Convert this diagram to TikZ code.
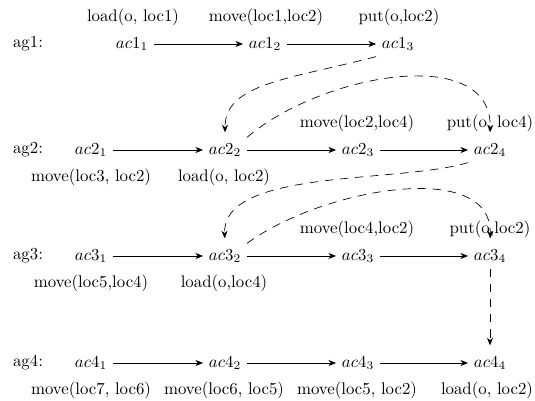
\documentclass[tikz,border=0pt]{standalone}
\usetikzlibrary{arrows.meta}
\begin{document}
\begin{tikzpicture}[x=0.595pt,y=-0.595pt,
  act/.style={inner sep=3.33pt},
  lbl/.style={inner sep=1pt},
  aglbl/.style={inner sep=1pt},
  flow/.style={-{Stealth[length=4.5pt,width=3.6pt,inset=1.4pt]}},
  dep/.style={-{Stealth[length=4.5pt,width=3.6pt,inset=1.4pt]},dash pattern=on 5pt off 4pt,shorten >=3pt}]
\useasboundingbox (0,0) rectangle (535,401);
% agents
\node[aglbl] (ag1) at (28,44) {ag1:};
\node[aglbl] (ag2) at (28,150) {ag2:};
\node[aglbl] (ag3) at (28,256) {ag3:};
\node[aglbl] (ag4) at (28,363) {ag4:};
% actions
\node[act] (a11) at (132,44) {$ac1_1$};
\node[act] (a12) at (265,44) {$ac1_2$};
\node[act] (a13) at (398,44) {$ac1_3$};
\node[act] (a21) at (91,150) {$ac2_1$};
\node[act] (a22) at (225,150) {$ac2_2$};
\node[act] (a23) at (358,150) {$ac2_3$};
\node[act] (a24) at (490,150) {$ac2_4$};
\node[act] (a31) at (91,256) {$ac3_1$};
\node[act] (a32) at (225,256) {$ac3_2$};
\node[act] (a33) at (358,256) {$ac3_3$};
\node[act] (a34) at (490,256) {$ac3_4$};
\node[act] (a41) at (91,363) {$ac4_1$};
\node[act] (a42) at (225,363) {$ac4_2$};
\node[act] (a43) at (358,363) {$ac4_3$};
\node[act] (a44) at (490,363) {$ac4_4$};
% labels
\node[lbl] (l11) at (133,17) {load(o, loc1)};
\node[lbl] (l12) at (266,17) {move(loc1,loc2)};
\node[lbl] (l13) at (399,17) {put(o,loc2)};
\node[lbl] (l21) at (91,177) {move(loc3, loc2)};
\node[lbl] (l22) at (224,177) {load(o, loc2)};
\node[lbl] (l23) at (357,123) {move(loc2,loc4)};
\node[lbl] (l24) at (490,123) {put(o, loc4)};
\node[lbl] (l31) at (91,283) {move(loc5,loc4)};
\node[lbl] (l32) at (224,283) {load(o,loc4)};
\node[lbl] (l33) at (357,229) {move(loc4,loc2)};
\node[lbl] (l34) at (490,229) {put(o,loc2)};
\node[lbl] (l41) at (91,390) {move(loc7, loc6)};
\node[lbl] (l42) at (224,390) {move(loc6, loc5)};
\node[lbl] (l43) at (357,390) {move(loc5, loc2)};
\node[lbl] (l44) at (487,390) {load(o, loc2)};
% flows
\draw[flow] (a11) -- (a12);
\draw[flow] (a12) -- (a13);
\draw[flow] (a21) -- (a22);
\draw[flow] (a22) -- (a23);
\draw[flow] (a23) -- (a24);
\draw[flow] (a31) -- (a32);
\draw[flow] (a32) -- (a33);
\draw[flow] (a33) -- (a34);
\draw[flow] (a41) -- (a42);
\draw[flow] (a42) -- (a43);
\draw[flow] (a43) -- (a44);
% dependencies
\draw[dep] (a13.south west) .. controls +(-88,23) and +(0,-54) .. (a22.north);
\draw[dep] (a22.north east) .. controls +(75,-64) and +(2,-94) .. (a24.north);
\draw[dep] (a24.south west) .. controls +(-70,21) and +(-3,-75) .. (a32.north);
\draw[dep] (a32.north east) .. controls +(75,-55) and +(2,-85) .. (a34.north);
\draw[dep] (a34) -- (a44);
\end{tikzpicture}
\end{document}
